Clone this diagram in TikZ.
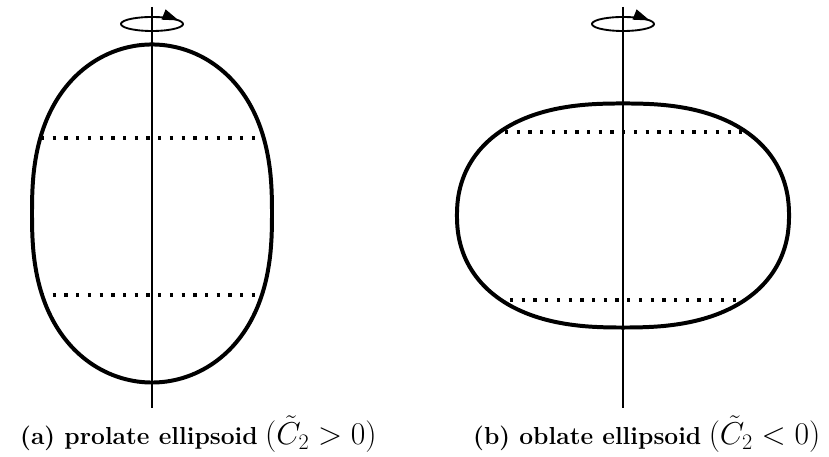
\documentclass[tikz,border=0pt]{standalone}
\usepackage{fix-cm}
\usetikzlibrary{arrows.meta}
\tikzset{
  shell/.style={line width=3.4pt},
  spinaxis/.style={line width=1.2pt},
  ring/.style={line width=2.8pt, dash pattern=on 2.8pt off 7.2pt},
  spin/.style={line width=1.6pt, -{Triangle[length=14pt,width=9pt]}},
  caption/.style={font=\fontsize{21}{25}\selectfont, inner sep=0pt, anchor=base west}
}
\newcommand{\bigmath}[1]{{\fontsize{27}{32}\selectfont$#1$}}
\begin{document}
\begin{tikzpicture}[x=0.03cm,y=0.03cm]
        % Define dimensions
        \useasboundingbox (0,0) rectangle (829,457);
        % Draw prolate body on the left
        \begin{scope}[shift={(152,243.5)}]
            \def\semix{120}
            \def\semiy{169}
            \def\px{2}
            \def\py{2.5}
            \draw[shell] plot[domain=1:359, samples=180, smooth cycle]
                ({\semix*sign(cos(\x))*abs(cos(\x))^(2/\px)}, {\semiy*sign(sin(\x))*abs(sin(\x))^(2/\py)});
            % Dotted rings
            \foreach \h/\w in {75.5/111, -81.5/111}
                \draw[ring] (-\w,\h) -- (\w,\h);
            % Rotation sense and axis
            \draw[spin] (0,189.5) ++(85:31 and 7) arc[start angle=85, end angle=-330, x radius=31, y radius=7];
            \coordinate (topA) at (0,206.5);
            \coordinate (botA) at (0,-194.5);
            \draw[spinaxis] (topA) -- (botA);
        \end{scope}
        % Draw oblate body on the right
        \begin{scope}[shift={(623,241.5)}]
            \def\semix{166}
            \def\semiy{112}
            \def\px{2.5}
            \def\py{2.2}
            \draw[shell] plot[domain=1:359, samples=180, smooth cycle]
                ({\semix*sign(cos(\x))*abs(cos(\x))^(2/\px)}, {\semiy*sign(sin(\x))*abs(sin(\x))^(2/\py)});
            % Dotted rings
            \foreach \h/\l/\r in {83.5/-118/119, -84.5/-113/114}
                \draw[ring] (\l,\h) -- (\r,\h);
            % Rotation sense and axis
            \draw[spin] (0,191.5) ++(85:31 and 7) arc[start angle=85, end angle=-330, x radius=31, y radius=7];
            \coordinate (topB) at (0,208.5);
            \coordinate (botB) at (0,-192.5);
            \draw[spinaxis] (topB) -- (botB);
        \end{scope}
        % Captions
        \node[caption] (capA) at (20,12) {\textbf{(a) prolate ellipsoid} \bigmath{(\tilde{C}_2>0)}};
        \node[caption] (capB) at (473,12) {\textbf{(b) oblate ellipsoid} \bigmath{(\tilde{C}_2<0)}};
    \end{tikzpicture}
\end{document}
